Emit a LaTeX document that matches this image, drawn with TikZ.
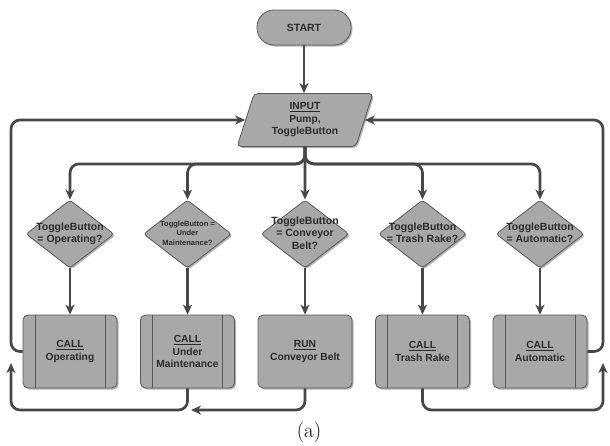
\documentclass[tikz,border=0pt]{standalone}
\usepackage{fontspec}
\newfontfamily\lsans{Liberation Sans}
\usetikzlibrary{shapes.geometric,arrows.meta,shadows,calc}
\definecolor{shapefill}{HTML}{A8A8A8}
\definecolor{shapeedge}{HTML}{5A5A5A}
\definecolor{linecol}{HTML}{474747}
\definecolor{txt}{HTML}{2B2B2B}
\newcommand{\dtxt}[1]{\makebox[0pt]{\begin{tabular}{@{}c@{}}#1\end{tabular}}}
\begin{document}
\begin{tikzpicture}[x=1pt,y=-1pt,
  base/.style={draw=shapeedge, line width=0.8pt, fill=shapefill, text=txt,
    font=\lsans\bfseries\fontsize{10.3}{12.5}\selectfont, align=center, inner sep=0pt,
    drop shadow={shadow xshift=1.5pt,shadow yshift=-1.5pt,opacity=0.3,fill=black}},
  term/.style={base, rounded corners=17pt, minimum width=94pt, minimum height=35pt,
    font=\lsans\bfseries\fontsize{10.5}{12.5}\selectfont},
  io/.style={base, trapezium, trapezium left angle=72, trapezium right angle=108,
    trapezium stretches=true, minimum width=136pt, minimum height=53pt, rounded corners=4pt},
  dec/.style={base, diamond, minimum width=88pt, minimum height=68pt, rounded corners=3pt,
    font=\lsans\bfseries\fontsize{10.5}{12.5}\selectfont},
  smalldec/.style={dec, font=\lsans\bfseries\fontsize{7.5}{9.5}\selectfont},
  procbox/.style={base, rounded corners=5pt, minimum width=94pt, minimum height=73pt},
  subproc/.style={procbox, path picture={
      \draw[shapeedge, line width=0.8pt]
        ([xshift=12pt]path picture bounding box.north west) -- ([xshift=12pt]path picture bounding box.south west)
        ([xshift=-12pt]path picture bounding box.north east) -- ([xshift=-12pt]path picture bounding box.south east);}},
  flow/.style={draw=linecol, line width=2.7pt, rounded corners=9pt,
    -{Stealth[length=10pt,width=9pt,inset=3pt]}}
]
\useasboundingbox (0,0) rectangle (610,445);

\node[term] (start) at (304,27.5) {START};
\node[io] (input) at (305,120) {\underline{INPUT}\\Pump,\\ToggleButton};

\node[dec] (d1) at (70,234) {\dtxt{ToggleButton\\= Operating?}};
\node[smalldec] (d2) at (187.5,234) {\dtxt{ToggleButton =\\Under\\Maintenance?}};
\node[dec] (d3) at (305,234) {\dtxt{ToggleButton\\= Conveyor\\Belt?}};
\node[dec] (d4) at (422.5,234) {\dtxt{ToggleButton\\= Trash Rake?}};
\node[dec] (d5) at (540,234) {\dtxt{ToggleButton\\= Automatic?}};

\node[subproc] (b1) at (70,351.5) {\underline{CALL}\\Operating};
\node[subproc] (b2) at (187.5,351.5) {\underline{CALL}\\Under\\Maintenance};
\node[procbox] (b3) at (305,351.5) {\underline{RUN}\\Conveyor Belt};
\node[subproc] (b4) at (422.5,351.5) {\underline{CALL}\\Trash Rake};
\node[subproc] (b5) at (540,351.5) {\underline{CALL}\\Automatic};

\node (cap) at (309,432) {\fontsize{21}{24}\selectfont (a)};

\coordinate (lx) at (11,0);
\coordinate (rx) at (603,0);
\coordinate (lin) at (11,363);
\coordinate (rin) at (603,363);
\coordinate (lb) at (11,410);
\coordinate (rb) at (603,410);
\coordinate (mid) at (191,410);

% start to input
\draw[flow] (start) -- (start |- input.north);

% branches
\draw[flow] (input.south) -- (d3.north);
\foreach \i in {1,2,4,5}{
  \draw[flow] (input.south) -- ++(0,17) -| (d\i.north);
}
\foreach \i in {1,...,5}{
  \draw[flow] (d\i.south) -- (b\i.north);
}

% loops
\draw[flow] (b1.west) -| (lx |- input.west) -- (input.west);
\draw[flow] (b5.east) -| (rx |- input.east) -- (input.east);
\draw[flow] (b2.south) |- (lb) -- (lin);
\draw[flow] (b3.south) |- (mid);
\draw[flow] (b4.south) |- (rb) -- (rin);
\end{tikzpicture}
\end{document}
